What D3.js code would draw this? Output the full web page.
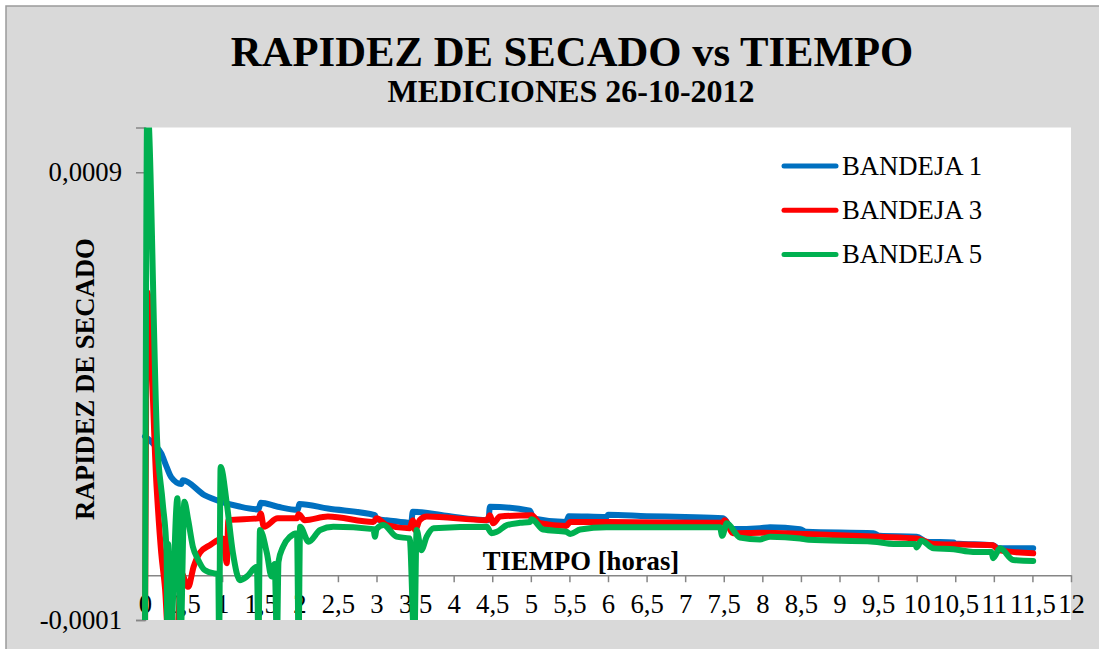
<!DOCTYPE html>
<html>
<head>
<meta charset="utf-8">
<script src="https://cdn.jsdelivr.net/npm/d3@7"></script>
<style>
  html, body { margin: 0; padding: 0; background: #ffffff; }
  svg { display: block; }
  text { font-family: "Liberation Serif", "Times New Roman", serif; fill: #000; }
</style>
</head>
<body>
<svg id="chart" width="1099" height="649"></svg>
<script>
// Drying rate measurements, 26-10-2012: [time in hours, drying rate]
const bandeja1 = [
  [0, 3.1e-4], [0.10, 2.95e-4], [0.21, 2.72e-4], [0.28, 2.42e-4], [0.34, 2.19e-4], [0.47, 2.04e-4], [0.49, 2.12e-4],
  [0.77, 1.79e-4], [0.99, 1.64e-4], [1.21, 1.54e-4], [1.47, 1.47e-4], [1.50, 1.62e-4], [1.72, 1.53e-4],
  [1.98, 1.46e-4], [2.00, 1.59e-4], [2.37, 1.49e-4], [2.98, 1.34e-4], [3.00, 1.25e-4], [3.13, 1.23e-4],
  [3.45, 1.17e-4], [3.47, 1.42e-4], [3.90, 1.33e-4], [4.45, 1.23e-4], [4.47, 1.53e-4], [4.99, 1.44e-4],
  [5.03, 1.27e-4], [5.46, 1.19e-4], [5.49, 1.32e-4], [5.98, 1.30e-4], [6.00, 1.35e-4], [6.50, 1.32e-4],
  [7.00, 1.30e-4], [7.49, 1.27e-4], [7.62, 1.03e-4], [7.97, 1.05e-4], [8.10, 1.07e-4], [8.49, 1.03e-4],
  [8.57, 0.97e-4], [9.44, 0.94e-4], [9.52, 0.88e-4], [10.00, 0.86e-4], [10.13, 0.75e-4], [10.48, 0.73e-4],
  [10.50, 0.71e-4], [10.99, 0.67e-4], [11.06, 0.60e-4], [11.51, 0.60e-4]
];

const bandeja3 = [
  [0, -1.5e-4], [0.03, 6.32e-4], [0.15, 1.98e-4], [0.21, 0.50e-4], [0.26, -0.30e-4], [0.30, -1.3e-4],
  [0.42, -1.2e-4], [0.47, 0.05e-4], [0.56, -0.26e-4], [0.63, 0.19e-4], [0.71, 0.50e-4], [0.84, 0.67e-4],
  [1.01, 0.82e-4], [1.06, 0.27e-4], [1.08, 1.23e-4], [1.47, 1.27e-4], [1.50, 1.38e-4], [1.54, 1.08e-4],
  [1.72, 1.27e-4], [1.97, 1.27e-4], [1.99, 1.36e-4], [2.07, 1.23e-4], [2.37, 1.31e-4], [2.96, 1.19e-4],
  [3.00, 1.27e-4], [3.13, 1.12e-4], [3.43, 1.05e-4], [3.47, 1.23e-4], [3.50, 1.01e-4], [3.56, 1.23e-4],
  [3.65, 1.31e-4], [4.43, 1.23e-4], [4.47, 1.34e-4], [4.51, 1.16e-4], [4.60, 1.31e-4], [5.01, 1.34e-4],
  [5.12, 1.16e-4], [5.46, 1.10e-4], [5.51, 1.19e-4], [5.98, 1.19e-4], [7.49, 1.17e-4], [7.51, 1.23e-4],
  [7.62, 0.94e-4], [7.97, 0.95e-4], [8.57, 0.92e-4], [9.52, 0.86e-4], [10.00, 0.82e-4], [10.22, 0.70e-4],
  [10.99, 0.67e-4], [11.06, 0.56e-4], [11.51, 0.49e-4]
];

const bandeja5 = [
  [0, -1.5e-4], [0.03, 10.5e-4], [0.16, 2.9e-4], [0.23, 1.61e-4], [0.28, 0.50e-4], [0.29, -1.5e-4],
  [0.30, 0.70e-4], [0.33, -1.5e-4], [0.42, 1.72e-4], [0.46, -1.5e-4], [0.51, 1.64e-4], [0.56, 1.23e-4],
  [0.62, 0.64e-4], [0.69, 0.34e-4], [0.77, 0.12e-4], [0.90, 0.04e-4], [0.95, 0.03e-4], [0.96, -1.5e-4],
  [0.98, 2.42e-4], [1.06, 1.60e-4], [1.14, 0.49e-4], [1.23, -0.11e-4], [1.32, -0.03e-4], [1.45, 0.19e-4],
  [1.47, -1.5e-4], [1.49, 1.01e-4], [1.58, 0.49e-4], [1.64, -0.03e-4], [1.68, 0.25e-4], [1.71, -1.5e-4],
  [1.73, 0.30e-4], [1.79, 0.64e-4], [1.88, 0.86e-4], [1.97, 0.94e-4], [1.99, -1.5e-4], [2.01, 1.08e-4],
  [2.12, 0.75e-4], [2.27, 1.01e-4], [2.44, 1.08e-4], [2.96, 1.03e-4], [2.98, 0.86e-4], [3.00, 1.03e-4],
  [3.09, 1.12e-4], [3.26, 0.86e-4], [3.43, 0.82e-4], [3.49, -1.5e-4], [3.52, 1.01e-4], [3.58, 0.56e-4],
  [3.65, 0.86e-4], [3.74, 1.05e-4], [4.43, 1.08e-4], [4.49, 0.94e-4], [4.56, 0.97e-4], [4.69, 1.12e-4],
  [4.86, 1.17e-4], [4.99, 1.19e-4], [5.01, 1.25e-4], [5.16, 1.02e-4], [5.46, 0.97e-4], [5.51, 0.92e-4],
  [5.64, 1.02e-4], [5.98, 1.07e-4], [7.45, 1.07e-4], [7.48, 0.88e-4], [7.54, 1.16e-4], [7.71, 0.84e-4],
  [7.97, 0.80e-4], [8.10, 0.86e-4], [8.49, 0.82e-4], [8.60, 0.79e-4], [9.44, 0.75e-4], [9.70, 0.70e-4],
  [9.98, 0.70e-4], [10.00, 0.62e-4], [10.06, 0.77e-4], [10.22, 0.60e-4], [10.48, 0.58e-4], [10.73, 0.52e-4],
  [10.97, 0.52e-4], [10.99, 0.38e-4], [11.08, 0.60e-4], [11.25, 0.34e-4], [11.51, 0.32e-4]
];

const seriesNames = ["BANDEJA 1", "BANDEJA 3", "BANDEJA 5"];
const seriesColors = ["#0070c0", "#ff0000", "#00b050"];

const xTickValues = d3.range(0, 12.001, 0.5);
const xTickLabels = ["0", "0,5", "1", "1,5", "2", "2,5", "3", "3,5", "4", "4,5", "5", "5,5", "6",
  "6,5", "7", "7,5", "8", "8,5", "9", "9,5", "10", "10,5", "11", "11,5", "12"];
const yTickValues = [-0.0001, 0.0009];
const yTickLabels = ["-0,0001", "0,0009"];

const svg = d3.select("#chart");
const labelFont = "26.7px";

// chart area background
svg.append("rect")
  .attr("x", 6).attr("y", 6).attr("width", 1110).attr("height", 660)
  .attr("fill", "#d9d9d9").attr("stroke", "#9a9a9a").attr("stroke-width", 1.5);

const plot = { left: 145, right: 1071, top: 127.5, bottom: 620 };

const x = d3.scaleLinear().domain([0, 12]).range([plot.left, plot.right]);
const y = d3.scaleLinear().domain([-0.0001, 0.001]).range([plot.bottom, plot.top]);

// plot area
svg.append("rect")
  .attr("x", plot.left).attr("y", plot.top)
  .attr("width", plot.right - plot.left).attr("height", plot.bottom - plot.top)
  .attr("fill", "#ffffff");

svg.append("clipPath").attr("id", "plotClip")
  .append("rect")
  .attr("x", plot.left - 4).attr("y", plot.top)
  .attr("width", plot.right - plot.left + 4).attr("height", plot.bottom - plot.top);

// titles
svg.append("text")
  .attr("x", 572).attr("y", 66)
  .attr("text-anchor", "middle")
  .style("font-size", "42.7px").style("font-weight", "bold")
  .text("RAPIDEZ DE SECADO vs TIEMPO");

svg.append("text")
  .attr("x", 571).attr("y", 102)
  .attr("text-anchor", "middle")
  .style("font-size", "32px").style("font-weight", "bold")
  .text("MEDICIONES 26-10-2012");

// y axis
const yAxis = d3.axisLeft(y)
  .tickValues(yTickValues)
  .tickFormat((d, i) => yTickLabels[i])
  .tickSize(9).tickPadding(14);

const gy = svg.append("g").attr("transform", `translate(${plot.left},0)`).call(yAxis);
gy.select(".domain").attr("stroke", "#868686").attr("stroke-width", 1.5);
gy.selectAll(".tick line").attr("stroke", "#868686").attr("stroke-width", 1.5);
gy.selectAll(".tick text")
  .style("font-family", "'Liberation Serif', 'Times New Roman', serif")
  .style("font-size", labelFont).attr("fill", "#000");

// x axis crossing at zero, labels kept low
const xAxis = d3.axisBottom(x)
  .tickValues(xTickValues)
  .tickFormat((d, i) => xTickLabels[i])
  .tickSize(7).tickSizeOuter(0);

const gx = svg.append("g").attr("transform", `translate(0,${y(0)})`).call(xAxis);
gx.select(".domain").attr("stroke", "#868686").attr("stroke-width", 1.5);
gx.selectAll(".tick line").attr("stroke", "#868686").attr("stroke-width", 1.5);
gx.selectAll(".tick text")
  .attr("y", 0).attr("dy", 0)
  .attr("transform", `translate(0,${613 - y(0)})`)
  .style("font-family", "'Liberation Serif', 'Times New Roman', serif")
  .style("font-size", labelFont).attr("fill", "#000");

// axis titles
svg.append("text")
  .attr("x", 581).attr("y", 570)
  .attr("text-anchor", "middle")
  .style("font-size", labelFont).style("font-weight", "bold")
  .text("TIEMPO [horas]");

svg.append("text")
  .attr("transform", "translate(94,379) rotate(-90)")
  .attr("text-anchor", "middle")
  .style("font-size", labelFont).style("font-weight", "bold")
  .text("RAPIDEZ DE SECADO");

// series lines (smoothed)
const line = d3.line().curve(d3.curveMonotoneX).x(d => x(d[0])).y(d => y(d[1]));
const allSeries = [bandeja1, bandeja3, bandeja5];

svg.append("g").attr("clip-path", "url(#plotClip)")
  .selectAll("path")
  .data(allSeries)
  .join("path")
  .attr("d", line)
  .attr("fill", "none")
  .attr("stroke", (d, i) => seriesColors[i])
  .attr("stroke-width", 6)
  .attr("stroke-linejoin", "round")
  .attr("stroke-linecap", "round");

// legend
const legend = svg.append("g");
const legendY = d3.scalePoint().domain(seriesNames).range([166, 254.5]);
seriesNames.forEach((name, i) => {
  const ly = legendY(name);
  legend.append("line")
    .attr("x1", 784).attr("x2", 836).attr("y1", ly).attr("y2", ly)
    .attr("stroke", seriesColors[i]).attr("stroke-width", 5).attr("stroke-linecap", "round");
  legend.append("text")
    .attr("x", 842).attr("y", ly).attr("dy", "0.33em")
    .style("font-size", labelFont)
    .text(name);
});
</script>
</body>
</html>
